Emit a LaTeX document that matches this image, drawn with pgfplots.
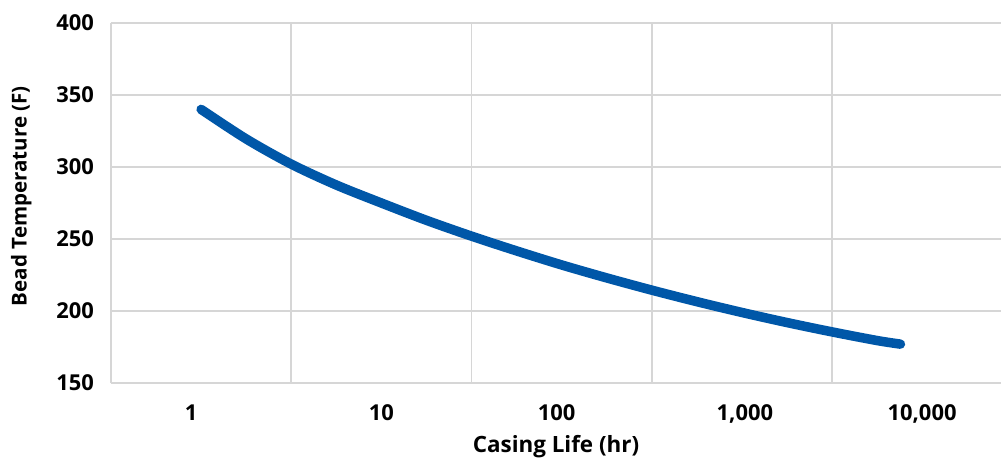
\documentclass[border=0pt]{standalone}
\usepackage{fontspec}
\setmainfont{Open Sans}
\usepackage{pgfplots}
\pgfplotsset{compat=1.18}
\definecolor{curveblue}{HTML}{0057A8}
\definecolor{gridgray}{HTML}{D6D6D6}
\begin{document}
\begin{tikzpicture}
\begin{axis}[
  at={(0,0)}, anchor=south west,
  scale only axis,
  width=890bp, height=360bp,
  xmode=log,
  xmin=0.3162, xmax=27416,
  ymin=150, ymax=400,
  ytick={150,200,250,300,350,400},
  xtick={1,10,100,1000,10000},
  xticklabels={\hspace*{-20bp}1,10,\hspace*{-10bp}100,{1,000\hspace*{-6bp}},{10,000}},
  minor xtick={0.3162,3.162,31.62,316.2,3162},
  xminorgrids=true, xmajorgrids=false, ymajorgrids=true,
  major tick length=0pt, minor tick length=0pt,
  axis line style={draw=none},
  grid style={gridgray, line width=1.6bp},
  minor grid style={gridgray, line width=1.6bp},
  /pgf/number format/assume math mode=true,
  ticklabel style={font=\fontsize{22}{24}\selectfont\bfseries},
  xticklabel style={inner sep=0pt, anchor=base, yshift=-37bp},
  yticklabel style={inner sep=0pt, anchor=east, xshift=-17bp},
  xlabel={Casing Life (hr)},
  ylabel={Bead Temperature (F)},
  every axis x label/.style={at={(axis description cs:0.5,-0.1917)}, anchor=base, font=\fontsize{22.5}{24}\selectfont\bfseries},
  every axis y label/.style={at={(axis description cs:-0.0947,0.519)}, anchor=base, rotate=90, font=\fontsize{20.6}{22}\selectfont\bfseries},
  clip=false,
]
\addplot[curveblue, line width=9.5bp, line cap=round, smooth] coordinates {
(1,340) (1.778,319.5) (3.162,302) (5.623,287.5) (10,275) (17.78,263)
(31.62,252) (56.23,241.75) (100,232) (177.8,223) (316.2,214.5)
(562.3,206.5) (1000,199) (1778,192) (3162,185.5) (5623,179.5) (7586,177)
};
\end{axis}
\pgfresetboundingbox
\path[use as bounding box] (-111bp,-75bp) rectangle (890bp,383bp);
\end{tikzpicture}
\end{document}
